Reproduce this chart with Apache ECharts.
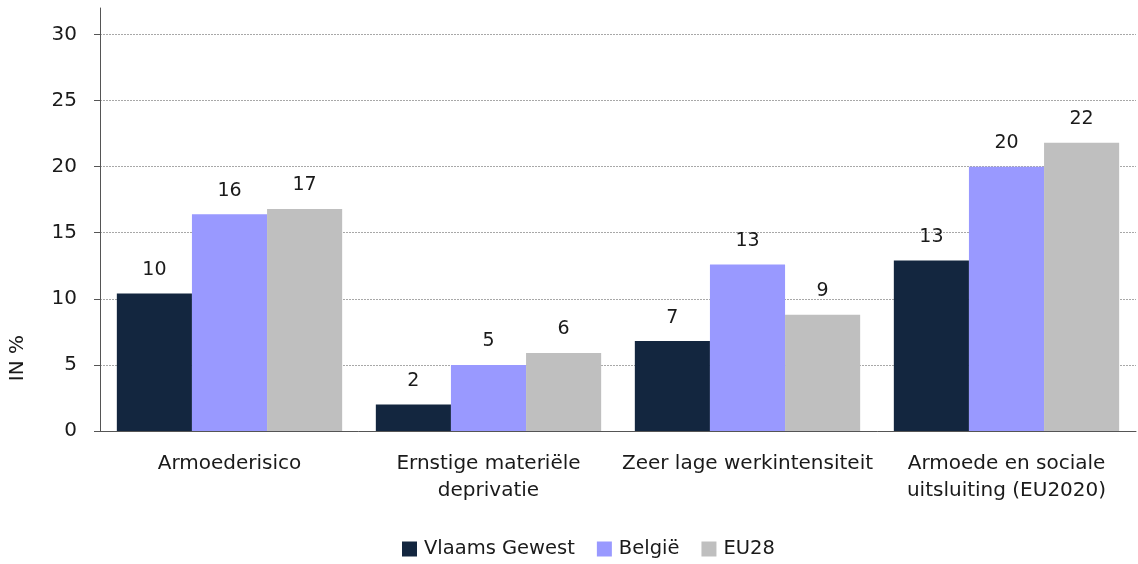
<!DOCTYPE html>
<html>
<head>
<meta charset="utf-8">
<script src="https://cdn.jsdelivr.net/npm/echarts@6/dist/echarts.min.js"></script>
<style>
  html, body { margin: 0; padding: 0; background: #fff; }
  #main { width: 1138px; height: 564px; }
</style>
</head>
<body>
<div id="main"></div>
<script>
// categorieën en waarden (in %)
var categories = [
  "Armoederisico",
  "Ernstige materiële\ndeprivatie",
  "Zeer lage werkintensiteit",
  "Armoede en sociale\nuitsluiting (EU2020)"
];
var vlaamsGewest = [10.4, 2.0, 6.8, 12.9];
var belgie = [16.4, 5.0, 12.6, 20.0];
var eu28 = [16.8, 5.9, 8.8, 21.8];
var yTicks = [0, 5, 10, 15, 20, 25, 30];

var font = "DejaVu Sans";
var textColor = "#1a1a1a";

function barSeries(name, data, color) {
  return {
    name: name,
    type: "bar",
    data: data,
    barGap: "0%",
    barCategoryGap: "13%",
    itemStyle: { color: color },
    label: {
      show: true,
      position: "top",
      distance: 14,
      color: textColor,
      fontFamily: font,
      fontSize: 19,
      formatter: function (p) {
        return Math.round(p.value);
      }
    }
  };
}

var myChart = echarts.init(document.getElementById("main"));
myChart.setOption({
  animation: false,
  textStyle: { fontFamily: font },
  grid: { left: 100, right: 2, top: 8, bottom: 133 },
  legend: {
    bottom: 0,
    left: 397,
    itemWidth: 15,
    itemHeight: 15,
    itemGap: 22,
    icon: "rect",
    textStyle: { fontFamily: font, fontSize: 19.5, color: textColor, padding: [0, 0, 0, 2] },
    data: ["Vlaams Gewest", "België", "EU28"]
  },
  xAxis: {
    type: "category",
    data: categories,
    axisLine: { lineStyle: { color: "#555", width: 1 } },
    axisTick: { show: false },
    axisLabel: {
      color: textColor,
      fontFamily: font,
      fontSize: 20,
      lineHeight: 27,
      margin: 19,
      interval: 0
    }
  },
  yAxis: {
    type: "value",
    min: 0,
    max: 32,
    interval: 1,
    axisLine: { show: true, lineStyle: { color: "#555", width: 1 } },
    axisTick: {
      show: true,
      length: 6,
      lineStyle: { color: "#555" },
      customValues: yTicks
    },
    axisLabel: {
      color: textColor,
      fontFamily: font,
      fontSize: 20,
      margin: 23,
      customValues: yTicks
    },
    splitLine: {
      show: true,
      lineStyle: { color: "#a8a8a8", type: [2, 1], width: 1 },
      showMinLine: false,
      showMaxLine: true
    }
  },
  graphic: [
    {
      type: "text",
      left: 8,
      top: 335,
      rotation: Math.PI / 2,
      style: {
        text: "IN %",
        fill: textColor,
        font: "20px 'DejaVu Sans'"
      }
    }
  ],
  series: [
    barSeries("Vlaams Gewest", vlaamsGewest, "#13263f"),
    barSeries("België", belgie, "#9999ff"),
    barSeries("EU28", eu28, "#bfbfbf")
  ]
});
</script>
</body>
</html>
